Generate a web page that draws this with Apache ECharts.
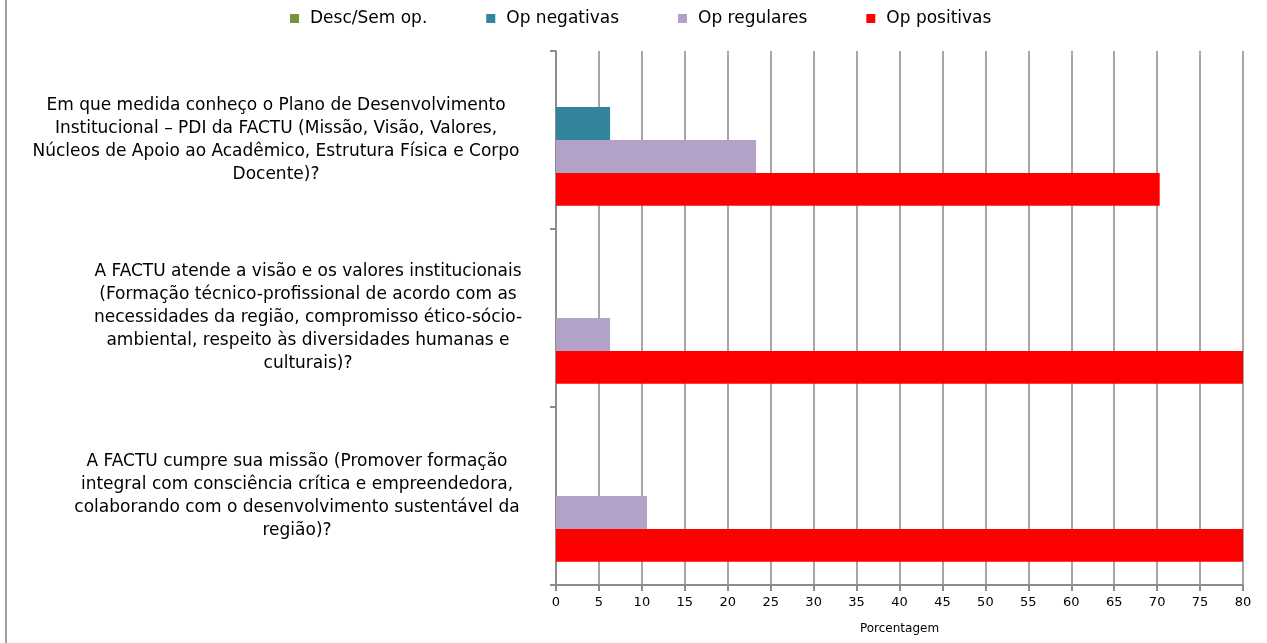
<!DOCTYPE html>
<html>
<head>
<meta charset="utf-8">
<script src="https://cdn.jsdelivr.net/npm/echarts@6/dist/echarts.min.js"></script>
<style>html,body{margin:0;padding:0;background:#fff}#c{width:1267px;height:643px}</style>
</head>
<body>
<div id="c"></div>
<script>
const categories = [
  "Em que medida conheço o Plano de Desenvolvimento\nInstitucional – PDI da FACTU (Missão, Visão, Valores,\nNúcleos de Apoio ao Acadêmico, Estrutura Física e Corpo\nDocente)?",
  "A FACTU atende a visão e os valores institucionais\n(Formação técnico-profissional de acordo com as\nnecessidades da região, compromisso ético-sócio-\nambiental, respeito às diversidades humanas e\nculturais)?",
  "A FACTU cumpre sua missão (Promover formação\nintegral com consciência crítica e empreendedora,\ncolaborando com o desenvolvimento sustentável da\nregião)?"
];
const seriesNames = ["Desc/Sem op.", "Op negativas", "Op regulares", "Op positivas"];
const descSemOp = [0, 0, 0];
const opNegativas = [6.3, 0, 0];
const opRegulares = [23.3, 6.3, 10.6];
const opPositivas = [70.3, 93.7, 89.4];
const xTicks = {min: 0, max: 80, interval: 5};
const axisName = "Porcentagem";

const colors = ["#77933C", "#31849B", "#B3A2C7", "#FF0000"];
const values = [descSemOp, opNegativas, opRegulares, opPositivas];
const labelPads = [[0, 42, 0, 0], [0, 0, 0, 22], [0, 0, 0, 0]];

const chart = echarts.init(document.getElementById('c'), null, {renderer: 'canvas'});
chart.setOption({
  animation: false,
  backgroundColor: '#fff',
  textStyle: {fontFamily: 'DejaVu Sans'},
  legend: {
    top: 5,
    left: 285,
    icon: 'rect',
    itemWidth: 9,
    itemHeight: 9,
    itemGap: 59,
    data: seriesNames,
    textStyle: {fontSize: 17, color: '#000', fontFamily: 'DejaVu Sans', padding: [0, 0, 0, 6]}
  },
  grid: {left: 556, right: 24, top: 51, bottom: 58, containLabel: false, outerBoundsMode: 'none'},
  xAxis: {
    type: 'value',
    min: xTicks.min, max: xTicks.max, interval: xTicks.interval,
    name: axisName,
    nameLocation: 'middle',
    nameGap: 38,
    nameTextStyle: {fontSize: 12, color: '#000'},
    axisLine: {show: true, lineStyle: {color: '#8c8c8c', width: 2}},
    axisTick: {show: true, length: 6, lineStyle: {color: '#8c8c8c', width: 2}},
    axisLabel: {fontSize: 13, color: '#000', margin: 11},
    splitLine: {show: true, lineStyle: {color: '#a6a6a6', width: 2}}
  },
  yAxis: {
    type: 'category',
    inverse: true,
    data: categories.map((c, i) => ({value: c, textStyle: {padding: labelPads[i], align: 'center'}})),
    axisLine: {show: true, lineStyle: {color: '#8c8c8c', width: 2}},
    axisTick: {show: true, length: 6, lineStyle: {color: '#8c8c8c', width: 2}},
    axisLabel: {
      fontSize: 17, color: '#000', align: 'center', margin: 259, lineHeight: 23,
      fontFamily: 'DejaVu Sans'
    },
    splitLine: {show: false}
  },
  series: seriesNames.map((n, i) => ({
    name: n,
    type: 'bar',
    data: values[i],
    barGap: '0%',
    barCategoryGap: '26%',
    clip: true,
    itemStyle: {color: colors[i]}
  })),
  graphic: [{
    type: 'line',
    shape: {x1: 6, y1: 0, x2: 6, y2: 643},
    style: {stroke: '#a0a0a0', lineWidth: 2}
  }]
});
</script>
</body>
</html>
